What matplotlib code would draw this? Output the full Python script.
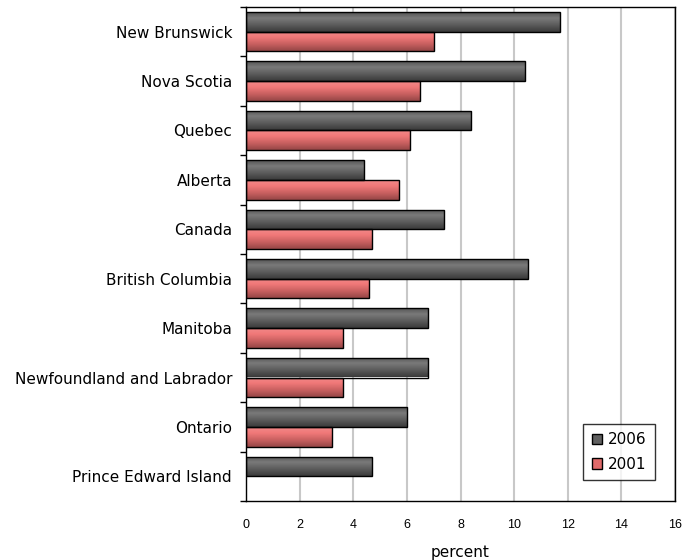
import numpy as np
import matplotlib
matplotlib.use("Agg")
import matplotlib.pyplot as plt
from matplotlib.colors import LinearSegmentedColormap
from matplotlib.patches import Patch

plt.rcParams['font.family'] = ['DejaVu Sans']

regions = ["New Brunswick", "Nova Scotia", "Quebec", "Alberta", "Canada",
           "British Columbia", "Manitoba", "Newfoundland and Labrador",
           "Ontario", "Prince Edward Island"]
rate_2006 = [11.7, 10.4, 8.4, 4.4, 7.4, 10.5, 6.8, 6.8, 6.0, 4.7]
rate_2001 = [7.0, 6.5, 6.1, 5.7, 4.7, 4.6, 3.6, 3.6, 3.2, np.nan]
series_labels = ["2006", "2001"]
x_ticks = [0, 2, 4, 6, 8, 10, 12, 14, 16]

# narrow-ish digits on the value axis so "16" fits at the right edge
tick_font = dict(family="Liberation Sans", size=9.0)

fig = plt.figure(figsize=(6.82, 5.6), dpi=100)
ax = fig.add_axes([246 / 682, 1 - 501 / 560, 429 / 682, 494 / 560])

n = len(regions)
centers = np.arange(n)[::-1].astype(float)
bar_h = 0.4

# vertical shading for each series (row 0 = top edge of bar)
gray_cmap = LinearSegmentedColormap.from_list(
    "g", [(0, "#555555"), (0.3, "#7a7a7a"), (0.6, "#606060"), (1, "#3a3a3a")])
red_cmap = LinearSegmentedColormap.from_list(
    "r", [(0, "#f28a8a"), (0.3, "#f07878"), (0.65, "#c86060"), (1, "#964646")])
grad = np.linspace(0, 1, 64).reshape(-1, 1)

ax.set_xlim(0, 16)
ax.set_ylim(-0.5, n - 0.5)

def shaded_bars(values, offset, cmap):
    vals = np.array(values, dtype=float)
    ok = ~np.isnan(vals)
    bars = ax.barh(centers[ok] + offset, vals[ok], height=bar_h,
                   facecolor="none", edgecolor="black", linewidth=1.0, zorder=3)
    for b in bars:
        x, y, w, h = b.get_x(), b.get_y(), b.get_width(), b.get_height()
        im = ax.imshow(grad, cmap=cmap, extent=(x, x + w, y, y + h),
                       origin="upper", aspect="auto", zorder=2,
                       interpolation="bilinear")
        im.set_clip_path(b)
    return bars

shaded_bars(rate_2006, bar_h / 2, gray_cmap)
shaded_bars(rate_2001, -bar_h / 2, red_cmap)

ax.set_xlim(0, 16)
ax.set_ylim(-0.5, n - 0.5)

# axes styling
ax.set_xticks(x_ticks)
ax.set_xticklabels([str(t) for t in x_ticks], **tick_font)
ax.tick_params(axis="x", length=0, pad=13)
ax.set_yticks(centers)
ax.set_yticklabels(regions, fontsize=11)
ax.tick_params(axis="y", which="major", length=0, pad=10)
ax.set_yticks(np.arange(-0.5, n, 1.0), minor=True)
ax.tick_params(axis="y", which="minor", length=4, width=1, color="black")
for s in ax.spines.values():
    s.set_color("black")
    s.set_linewidth(1.0)
ax.xaxis.grid(True, color="#c8c8c8", linewidth=1.5, zorder=0)
ax.set_axisbelow(True)
ax.set_xlabel("percent", fontsize=11, labelpad=10)

handles = [Patch(facecolor="#606060", edgecolor="black", linewidth=1.0),
           Patch(facecolor="#e06a6a", edgecolor="black", linewidth=1.0)]
leg = ax.legend(handles, series_labels, loc="lower right",
                bbox_to_anchor=(0.953, 0.0425), borderaxespad=0,
                fontsize=11, frameon=True,
                fancybox=False, handlelength=0.7, handleheight=0.7,
                handletextpad=0.35, labelspacing=0.6, borderpad=0.55)
leg.get_frame().set_edgecolor("black")
leg.get_frame().set_linewidth(1.0)

fig.savefig("out.png", dpi=100)
